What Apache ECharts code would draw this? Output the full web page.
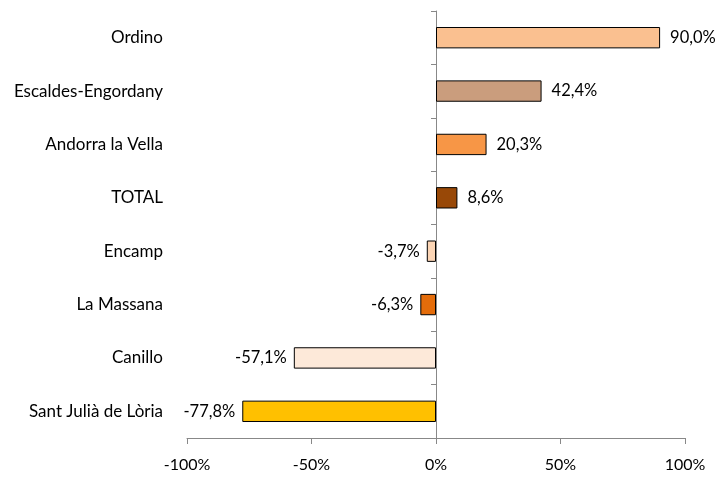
<!DOCTYPE html>
<html><head><meta charset="utf-8">
<script src="https://cdn.jsdelivr.net/npm/echarts@6/dist/echarts.min.js"></script>
<style>html,body{margin:0;padding:0;background:#fff}#c{width:719px;height:479px}</style>
</head><body><div id="c"></div>
<script>
const categories = ['Ordino','Escaldes-Engordany','Andorra la Vella','TOTAL','Encamp','La Massana','Canillo','Sant Julià de Lòria'];
const values = [90.0, 42.4, 20.3, 8.6, -3.7, -6.3, -57.1, -77.8];
const barColors = ['#FAC090','#CA9D7D','#F79646','#984807','#FCD5B5','#E46C0A','#FDE9D9','#FFC000'];
const xTicks = [-100, -50, 0, 50, 100];

const font = 'Lato, "Open Sans", sans-serif';
const chart = echarts.init(document.getElementById('c'));
chart.setOption({
  animation: false,
  grid: {left: 187, right: 34, top: 11, bottom: 41},
  xAxis: {
    type: 'value', min: xTicks[0], max: xTicks[xTicks.length-1], interval: 50,
    axisLine: {show: true, onZero: false, lineStyle: {color: '#888', width: 1}},
    axisTick: {show: true, length: 6, lineStyle: {color: '#888'}},
    splitLine: {show: false},
    axisLabel: {formatter: v => v + '%', color: '#000', fontFamily: font, fontSize: 16, margin: 19}
  },
  yAxis: [{
    type: 'category', data: categories, inverse: true, position: 'left',
    axisLine: {show: false, onZero: false}, axisTick: {show: false},
    axisLabel: {color: '#000', fontFamily: font, fontSize: 17, margin: 24}
  }, {
    type: 'category', data: categories, inverse: true, position: 'left',
    axisLine: {show: true, onZero: true, lineStyle: {color: '#888', width: 1}},
    axisTick: {show: true, length: 5, lineStyle: {color: '#888'}},
    axisLabel: {show: false}
  }],
  series: [{
    type: 'bar', yAxisIndex: 0, barWidth: '40%',
    data: values.map((v, i) => ({
      value: v,
      itemStyle: {color: barColors[i], borderColor: '#000', borderWidth: 1},
      label: {position: v >= 0 ? 'right' : 'left', distance: v >= 0 ? 10 : 7}
    })),
    label: {
      show: true, color: '#000', fontFamily: font, fontSize: 16.5,
      formatter: p => p.value.toFixed(1).replace('.', ',') + '%'
    }
  }]
});
</script></body></html>
